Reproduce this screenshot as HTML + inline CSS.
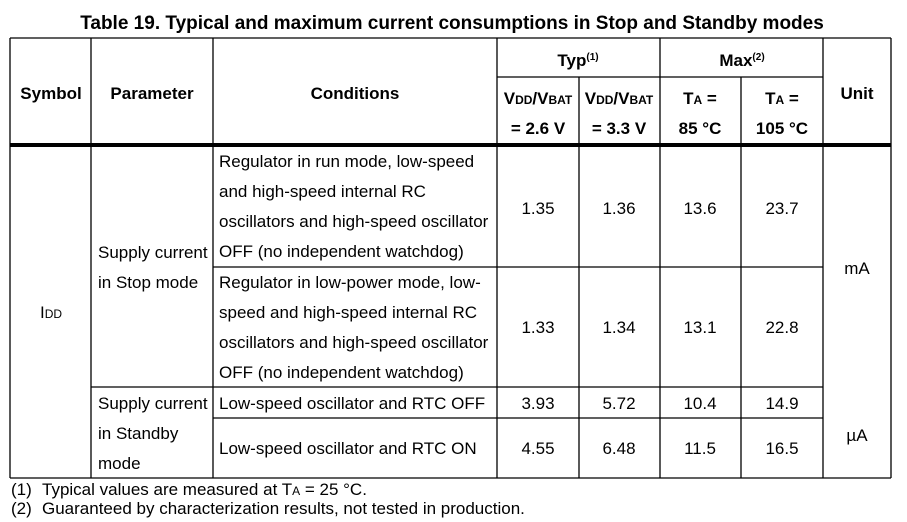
<!DOCTYPE html>
<html><head><meta charset="utf-8"><style>
html,body{margin:0;padding:0;background:#fff;}
svg{display:block;font-family:"Liberation Sans",Arial,sans-serif;}
text{fill:#000;font-size:17px;}
.b{font-weight:bold;}
.c{text-anchor:middle;}
</style></head><body>
<svg width="907" height="522" viewBox="0 0 907 522">
<text x="452" y="29" class="b c" style="font-size:19px">Table 19. Typical and maximum current consumptions in Stop and Standby modes</text>
<g stroke="#000" stroke-width="1.3" fill="none">
<line x1="10" y1="38" x2="891" y2="38"/>
<line x1="497" y1="77" x2="823" y2="77"/>
<line x1="213" y1="267" x2="823" y2="267"/>
<line x1="91" y1="387" x2="823" y2="387"/>
<line x1="213" y1="418" x2="823" y2="418"/>
<line x1="10" y1="478" x2="891" y2="478"/>
<line x1="10" y1="38" x2="10" y2="478"/>
<line x1="91" y1="38" x2="91" y2="478"/>
<line x1="213" y1="38" x2="213" y2="478"/>
<line x1="497" y1="38" x2="497" y2="478"/>
<line x1="579" y1="77" x2="579" y2="478"/>
<line x1="660" y1="38" x2="660" y2="478"/>
<line x1="741" y1="77" x2="741" y2="478"/>
<line x1="823" y1="38" x2="823" y2="478"/>
<line x1="891" y1="38" x2="891" y2="478"/>
</g>
<rect x="10" y="143" width="881" height="4" fill="#000"/>
<text x="51" y="99" class="b c">Symbol</text>
<text x="152" y="99" class="b c">Parameter</text>
<text x="355" y="99" class="b c">Conditions</text>
<text x="578" y="66" class="b c">Typ<tspan font-size="10" dy="-6">(1)</tspan></text>
<text x="742" y="66" class="b c">Max<tspan font-size="10" dy="-6">(2)</tspan></text>
<text x="857" y="99" class="b c">Unit</text>
<text x="538" y="104" class="b c">V<tspan font-size="12">DD</tspan>/V<tspan font-size="12">BAT</tspan></text>
<text x="619" y="104" class="b c">V<tspan font-size="12">DD</tspan>/V<tspan font-size="12">BAT</tspan></text>
<text x="700" y="104" class="b c">T<tspan font-size="12">A</tspan> =</text>
<text x="782" y="104" class="b c">T<tspan font-size="12">A</tspan> =</text>
<text x="538" y="134" class="b c">= 2.6 V</text>
<text x="619" y="134" class="b c">= 3.3 V</text>
<text x="700" y="134" class="b c">85 °C</text>
<text x="782" y="134" class="b c">105 °C</text>

<text x="51" y="318" class="c">I<tspan font-size="12">DD</tspan></text>
<text x="98" y="258">Supply current</text>
<text x="98" y="288">in Stop mode</text>
<text x="98" y="409">Supply current</text>
<text x="98" y="439">in Standby</text>
<text x="98" y="469">mode</text>

<text x="219" y="167">Regulator in run mode, low-speed</text>
<text x="219" y="197">and high-speed internal RC</text>
<text x="219" y="227">oscillators and high-speed oscillator</text>
<text x="219" y="257">OFF (no independent watchdog)</text>
<text x="219" y="288">Regulator in low-power mode, low-</text>
<text x="219" y="318">speed and high-speed internal RC</text>
<text x="219" y="348">oscillators and high-speed oscillator</text>
<text x="219" y="378">OFF (no independent watchdog)</text>
<text x="219" y="409">Low-speed oscillator and RTC OFF</text>
<text x="219" y="454">Low-speed oscillator and RTC ON</text>

<text x="538" y="214" class="c">1.35</text><text x="619" y="214" class="c">1.36</text><text x="700" y="214" class="c">13.6</text><text x="782" y="214" class="c">23.7</text>
<text x="538" y="333" class="c">1.33</text><text x="619" y="333" class="c">1.34</text><text x="700" y="333" class="c">13.1</text><text x="782" y="333" class="c">22.8</text>
<text x="538" y="409" class="c">3.93</text><text x="619" y="409" class="c">5.72</text><text x="700" y="409" class="c">10.4</text><text x="782" y="409" class="c">14.9</text>
<text x="538" y="454" class="c">4.55</text><text x="619" y="454" class="c">6.48</text><text x="700" y="454" class="c">11.5</text><text x="782" y="454" class="c">16.5</text>
<text x="857" y="274" class="c">mA</text>
<text x="857" y="441" class="c">µA</text>

<text x="11" y="495">(1)</text>
<text x="42" y="495">Typical values are measured at T<tspan font-size="12">A</tspan> = 25 °C.</text>
<text x="11" y="514">(2)</text>
<text x="42" y="514">Guaranteed by characterization results, not tested in production.</text>
</svg>
</body></html>
